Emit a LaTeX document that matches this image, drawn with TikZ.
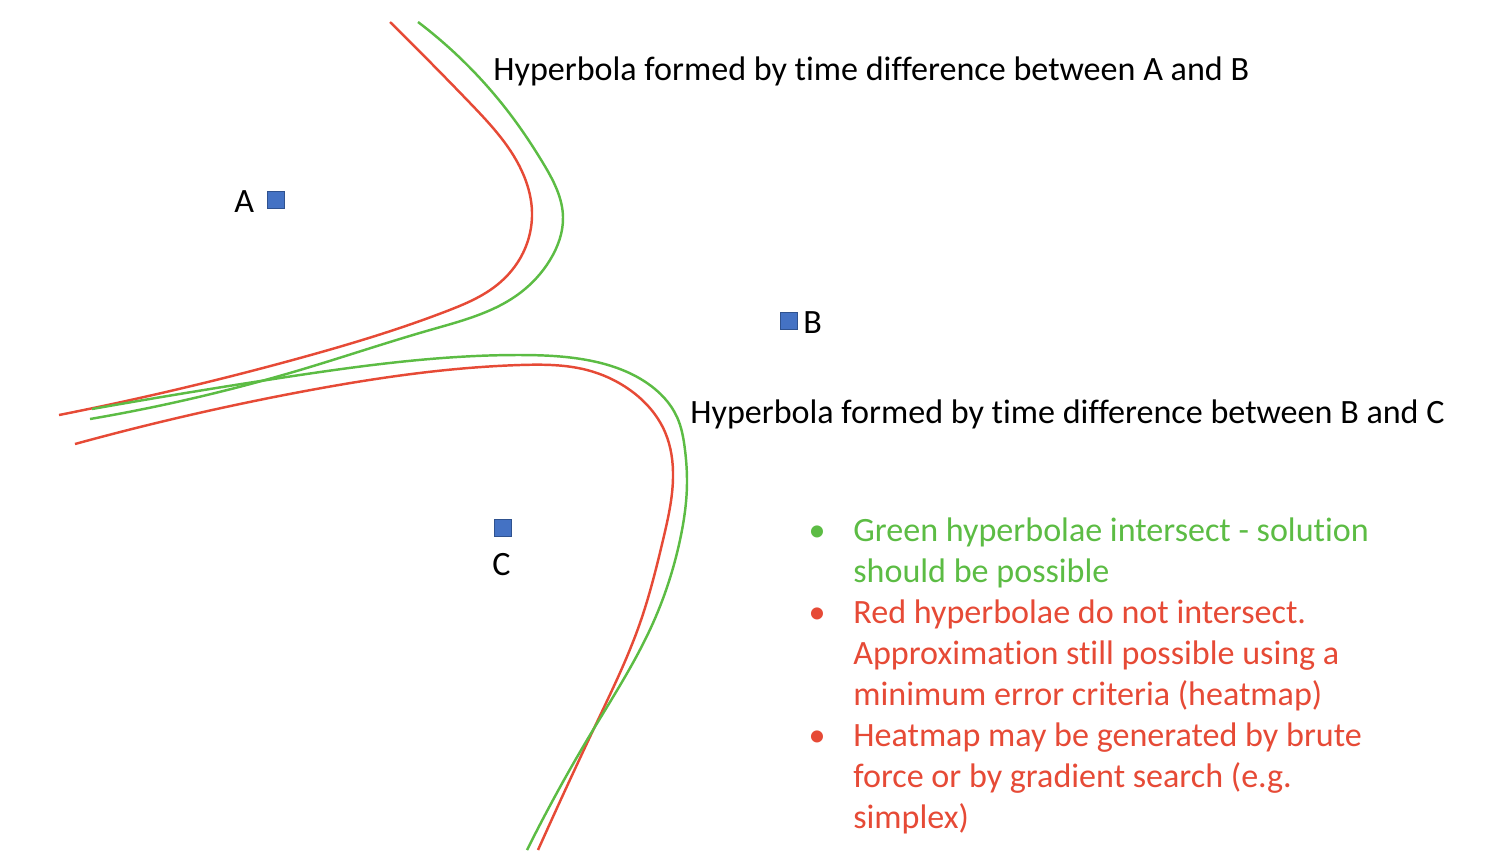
\documentclass[tikz,border=0pt]{standalone}
\usepackage{fontspec}
\setmainfont{Carlito}[Ligatures=NoCommon]
\usetikzlibrary{hobby}
\definecolor{hypgreen}{RGB}{92,188,68}
\definecolor{hypred}{RGB}{230,74,54}
\definecolor{rxblue}{RGB}{68,114,196}
\definecolor{rxedge}{RGB}{47,82,143}
\begin{document}
\begin{tikzpicture}[x=0.02cm, y=-0.02cm,
    curve/.style={line width=1.4pt, use Hobby shortcut},
    receiver/.style={draw=rxedge, fill=rxblue, line width=0.5pt, minimum size=0.33cm, inner sep=0pt},
    txt/.style={font=\fontsize{19.4}{23.2}\selectfont, inner sep=0pt, anchor=base west},
    bullet/.style={font=\fontsize{19.4}{23.2}\selectfont, inner sep=0pt, anchor=base}]
    \useasboundingbox (0,0) rectangle (1500,850);

    \draw[hypred, curve] (390,22) .. (470,103) .. (524,176) .. (532,212)
        .. (523,253) .. (497,285) .. (447,311) .. (300,358) .. (59,415);
    \draw[hypgreen, curve] (418,22) .. (513,118) .. (543,163) .. (563,217)
        .. (550,260) .. (520,293) .. (430,330) .. (300,370) .. (90,419);

    \draw[hypred, curve] (75,444) .. (300,392) .. (520,365) .. (587,370) .. (630,390)
        .. (665,432) .. (673,478) .. (663,540) .. (640,623) .. (597,722) .. (538,850);
    \draw[hypgreen, curve] (92,409) .. (280,378) .. (520,355) .. (587,360) .. (647,383)
        .. (677,417) .. (685,450) .. (687,480) .. (680,540) .. (653,623) .. (590,735) .. (527,850);

    \node[receiver] (RA) at (276,200) {};
    \node[receiver] (RB) at (789,321) {};
    \node[receiver] (RC) at (503,528) {};
    \node[txt] (LA) at (234,212) {A};
    \node[txt] (LB) at (803,333) {B};
    \node[txt] (LC) at (492,575) {C};

    \node[txt] (HAB) at (493,80) {Hyperbola formed by time difference between A and B};
    \node[txt] (HBC) at (690,423) {Hyperbola formed by time difference between B and C};

    \node[bullet, text=hypgreen] (B1) at (817,541) {•};
    \node[bullet, text=hypred] (B2) at (817,623) {•};
    \node[bullet, text=hypred] (B3) at (817,746) {•};
    \node[txt, text=hypgreen, align=left] (T1) at (853,582)
        {Green hyperbolae intersect - solution\\should be possible};
    \node[txt, text=hypred, align=left] (T2) at (853,705)
        {Red hyperbolae do not intersect.\\Approximation still possible using a\\minimum error criteria (heatmap)};
    \node[txt, text=hypred, align=left] (T3) at (853,828)
        {Heatmap may be generated by brute\\force or by gradient search (e.g.\\simplex)};
\end{tikzpicture}
\end{document}
